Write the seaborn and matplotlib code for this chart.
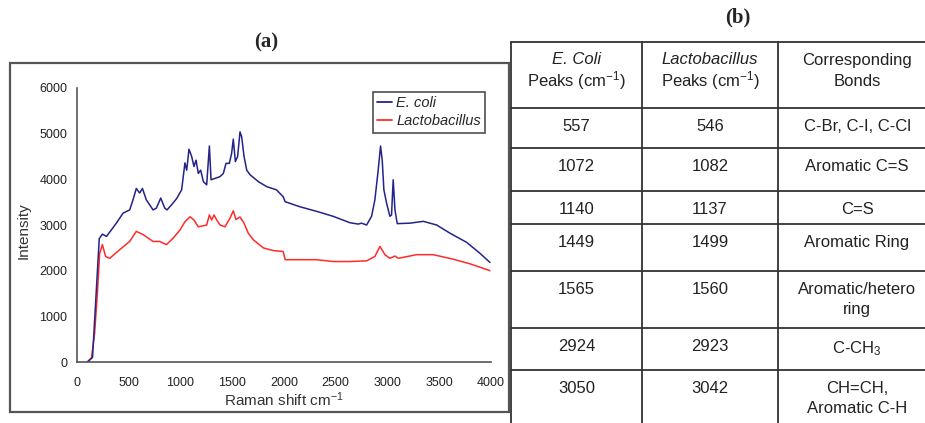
import pandas as pd
import matplotlib.pyplot as plt
import seaborn as sns
from matplotlib.patches import Rectangle

sns.set_style("white")
plt.rcParams["font.family"] = ["Liberation Sans", "DejaVu Sans"]
plt.rcParams["mathtext.default"] = "regular"

# Raman spectra (shift in cm-1, intensity)
ECOLI_X = [100, 150, 185, 215, 245, 285, 380, 445, 509, 541, 573, 605, 632, 670,
           735, 767, 809, 848, 870, 920, 963, 1011, 1043, 1060, 1082, 1108, 1130,
           1150, 1172, 1195, 1221, 1253, 1279, 1295, 1333, 1382, 1414, 1440, 1472,
           1494, 1510, 1530, 1552, 1575, 1591, 1614, 1640, 1672, 1752, 1833, 1927,
           1992, 2011, 2153, 2314, 2475, 2637, 2717, 2749, 2798, 2846, 2878, 2910,
           2933, 2949, 2965, 2991, 3023, 3039, 3055, 3072, 3094, 3217, 3346, 3475,
           3604, 3765, 3893, 3990]
ECOLI_Y = [0, 100, 1500, 2700, 2800, 2750, 3040, 3260, 3330, 3550, 3800, 3700, 3800, 3550,
           3330, 3370, 3590, 3370, 3330, 3460, 3580, 3770, 4360, 4200, 4660, 4500, 4280,
           4420, 4130, 4200, 3950, 3880, 4730, 3990, 4020, 4060, 4130, 4350, 4350,
           4570, 4880, 4390, 4500, 5040, 4930, 4500, 4200, 4100, 3950, 3840, 3770,
           3620, 3510, 3400, 3300, 3190, 3050, 3020, 3040, 3000, 3190, 3550, 4200,
           4730, 4420, 3770, 3480, 3190, 3220, 3990, 3330, 3030, 3040, 3080, 3000,
           2820, 2620, 2380, 2180]

LACTO_X = [100, 140, 170, 197, 219, 245, 277, 316, 413, 509, 573, 638, 735, 799,
           864, 928, 995, 1043, 1092, 1130, 1172, 1253, 1279, 1301, 1324, 1350, 1382,
           1430, 1478, 1510, 1536, 1575, 1614, 1655, 1702, 1799, 1895, 1992, 2011,
           2153, 2314, 2475, 2637, 2798, 2878, 2927, 2975, 3023, 3072, 3104, 3281,
           3443, 3636, 3797, 3990]
LACTO_Y = [0, 90, 630, 1500, 2380, 2570, 2310, 2270, 2460, 2640, 2860, 2790, 2640, 2640,
           2570, 2710, 2890, 3070, 3180, 3110, 2960, 3000, 3220, 3110, 3220, 3110, 3000,
           2960, 3150, 3310, 3120, 3175, 3040, 2820, 2680, 2500, 2440, 2420, 2240,
           2240, 2240, 2200, 2200, 2215, 2310, 2530, 2350, 2270, 2320, 2270, 2350,
           2350, 2250, 2150, 2000]

SERIES = ["E. coli", "Lactobacillus"]
COLORS = {"E. coli": "#23238a", "Lactobacillus": "#ff2a2a"}
X_TICKS = [0, 500, 1000, 1500, 2000, 2500, 3000, 3500, 4000]
Y_TICKS = [0, 1000, 2000, 3000, 4000, 5000, 6000]

# table (b)
HEADER_TOP = ["E. Coli", "Lactobacillus", "Corresponding"]
HEADER_BOTTOM = ["Peaks (cm$^{-1}$)", "Peaks (cm$^{-1}$)", "Bonds"]
HEADER_ITALIC = [True, True, False]
ECOLI_PEAKS = ["557", "1072", "1140", "1449", "1565", "2924", "3050"]
LACTO_PEAKS = ["546", "1082", "1137", "1499", "1560", "2923", "3042"]
BONDS = ["C-Br, C-I, C-Cl", "Aromatic C=S", "C=S", "Aromatic Ring",
         "Aromatic/hetero\nring", "C-CH$_3$", "CH=CH,\nAromatic C-H"]

# layout in figure pixels (925 x 423)
COL_EDGES = [511, 642, 778, 936]
ROW_EDGES = [42, 108, 148, 191, 224, 271, 328, 370, 440]


def spectra_frame():
    a = pd.DataFrame({"shift": ECOLI_X, "intensity": ECOLI_Y, "sample": SERIES[0]})
    b = pd.DataFrame({"shift": LACTO_X, "intensity": LACTO_Y, "sample": SERIES[1]})
    return pd.concat([a, b], ignore_index=True)


def draw_spectra(fig):
    ax = fig.add_axes([77 / 925, 1 - 362 / 423, 414 / 925, 274 / 423])
    df = spectra_frame()
    sns.lineplot(data=df, x="shift", y="intensity", hue="sample", hue_order=SERIES[::-1],
                 palette=COLORS, sort=False, lw=1.1, legend=False, ax=ax)

    ax.set_xlim(0, 4000)
    ax.set_ylim(0, 6000)
    ax.set_xticks(X_TICKS)
    ax.set_yticks(Y_TICKS)
    for side in ["top", "right"]:
        ax.spines[side].set_visible(False)
    for side in ["left", "bottom"]:
        ax.spines[side].set_color("#555555")
        ax.spines[side].set_linewidth(1.2)
    ax.tick_params(direction="out", length=4, width=1, color="#555555",
                   labelsize=9, labelcolor="#222222")
    ax.tick_params(axis="x", pad=7)
    ax.tick_params(axis="y", pad=3)
    ax.set_xlabel("Raman shift cm$^{-1}$", fontsize=11, color="#333333", labelpad=1)
    ax.set_ylabel("Intensity", fontsize=11, color="#333333")
    ax.yaxis.set_label_coords(-0.112, 0.48)

    handles = [plt.Line2D([], [], color=COLORS[s], lw=1.3) for s in SERIES]
    leg = ax.legend(handles, SERIES, loc="upper left", bbox_to_anchor=(0.715, 0.985),
                    borderaxespad=0, fancybox=False, handlelength=1.0, handletextpad=0.3,
                    borderpad=0.3, labelspacing=0.25, prop={"style": "italic", "size": 10.5})
    leg.get_frame().set_edgecolor("#222222")
    leg.get_frame().set_linewidth(1.2)
    return ax


def draw_layout(fig):
    lay = fig.add_axes([0, 0, 1, 1], zorder=-1)
    lay.set_xlim(0, 925)
    lay.set_ylim(423, 0)
    lay.axis("off")

    lay.add_patch(Rectangle((10, 63), 499, 349, fill=False, ec="#555555", lw=1.6))
    lay.text(266, 42, "(a)", ha="center", va="center", fontsize=15,
             fontweight="bold", family="Liberation Serif")
    lay.text(738, 17, "(b)", ha="center", va="center", fontsize=15,
             fontweight="bold", family="Liberation Serif")

    # table grid
    for x in COL_EDGES:
        lay.plot([x, x], [ROW_EDGES[0], ROW_EDGES[-1]], color="#333333", lw=1.3)
    for y in ROW_EDGES:
        lay.plot([COL_EDGES[0], COL_EDGES[-1]], [y, y], color="#333333", lw=1.3)

    centers = [(COL_EDGES[i] + COL_EDGES[i + 1]) / 2 for i in range(3)]
    for i, cx in enumerate(centers):
        lay.text(cx, 60, HEADER_TOP[i], ha="center", va="center", fontsize=12,
                 style="italic" if HEADER_ITALIC[i] else "normal", color="#222222")
        lay.text(cx, 81, HEADER_BOTTOM[i], ha="center", va="center", fontsize=12,
                 color="#222222")

    for r in range(len(ECOLI_PEAKS)):
        top = ROW_EDGES[r + 1] + 11
        row = [ECOLI_PEAKS[r], LACTO_PEAKS[r], BONDS[r]]
        for cx, txt in zip(centers, row):
            lay.text(cx, top, txt, ha="center", va="top", fontsize=12,
                     color="#222222", linespacing=1.45)


def main():
    fig = plt.figure(figsize=(9.25, 4.23), dpi=100)
    draw_layout(fig)
    draw_spectra(fig)
    fig.savefig("out.png", dpi=100, facecolor="white")
    plt.close(fig)


if __name__ == "__main__":
    main()
